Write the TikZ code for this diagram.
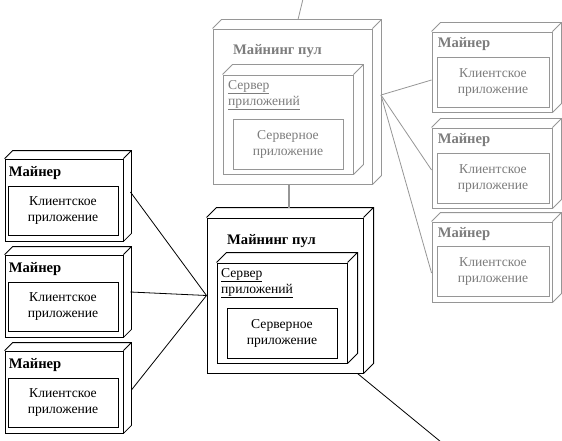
\documentclass[tikz,border=0pt]{standalone}
\usepackage{fontspec}
\setmainfont{Liberation Serif}
\usetikzlibrary{calc}
\definecolor{gline}{RGB}{150,150,150}
\definecolor{gtext}{RGB}{125,125,125}
\newcommand\extrude[3]{\draw[#3] (#1.north west) -- ++(#2,-#2) -- ($(#1.north east)+(#2,-#2)$) -- ($(#1.south east)+(#2,-#2)$) -- (#1.south east) (#1.north east) -- ++(#2,-#2);}
\tikzset{
  txt/.style={font=\fontsize{13.6}{16}\selectfont},
  ttl/.style={font=\fontsize{14.6}{17}\selectfont\bfseries, inner sep=0pt},
  face/.style={rectangle, inner sep=0pt, fill=white},
  blk/.style={draw=black, line width=1pt},
  blkthin/.style={draw=black, line width=0.85pt},
  gry/.style={draw=gline, line width=0.9pt},
  bwire/.style={draw=black, line width=0.8pt},
  gwire/.style={draw=gline, line width=0.8pt},
}
\begin{document}
\begin{tikzpicture}[x=1pt,y=-1pt]
\useasboundingbox (0,0) rectangle (562,441);

% ---------- gray mining pool (top) ----------
\node[face, gry, minimum width=159pt, minimum height=155pt] (gpool) at (292.5,106.5) {};
\extrude{gpool}{9}{gry}
\node[ttl, text=gtext, anchor=base west] (gpoolt) at (233,55) {Майнинг пул};
\node[face, gry, minimum width=130pt, minimum height=99pt] (gsrv) at (288,124.5) {};
\extrude{gsrv}{10}{gry}
\node[txt, text=gtext, anchor=north west, align=left, inner sep=0pt] (gsrvt) at (228,80) {\underline{Сервер}\\\underline{приложений}};
\node[face, gry, minimum width=110pt, minimum height=50pt, txt, text=gtext, align=center] (gapp) at (288,144) {Серверное\\приложение};

% ---------- black mining pool ----------
\node[face, blk, minimum width=156pt, minimum height=155pt] (bpool) at (285,295.5) {};
\extrude{bpool}{10}{blk}
\node[ttl, anchor=base west] (bpoolt) at (227,244) {Майнинг пул};
\node[face, blk, minimum width=130pt, minimum height=100pt] (bsrv) at (282,313) {};
\extrude{bsrv}{10}{blk}
\node[txt, anchor=north west, align=left, inner sep=0pt] (bsrvt) at (221,268) {\underline{Сервер}\\\underline{приложений}};
\node[face, blkthin, minimum width=110pt, minimum height=50pt, txt, align=center] (bapp) at (282,333) {Серверное\\приложение};

% ---------- left miners (black) ----------
\foreach \i/\y/\c in {1/200/210.5, 2/296/306.5, 3/392/402.5}{
  \node[face, blkthin, minimum width=118pt, minimum height=82pt] (lm\i) at (64,\y) {};
  \extrude{lm\i}{8}{blkthin}
  \node[ttl, anchor=base west] (lmt\i) at ($(lm\i.north west)+(4,18)$) {Майнер};
  \node[face, blkthin, minimum width=110pt, minimum height=49pt, txt, align=center] (lc\i) at (63,\c) {Клиентское\\приложение};
}

% ---------- right miners (gray) ----------
\foreach \i/\y/\c in {1/72/82, 2/168/178, 3/262/271}{
  \node[face, gry, minimum width=120pt, minimum height=80pt] (rm\i) at (492,\y) {};
  \extrude{rm\i}{9}{gry}
  \node[ttl, text=gtext, anchor=base west] (rmt\i) at ($(rm\i.north west)+(6,16)$) {Майнер};
  \node[face, gry, minimum width=112pt, minimum height=50pt, txt, text=gtext, align=center] (rc\i) at (493,\c) {Клиентское\\приложение};
}

% ---------- connectors ----------
\coordinate (ghub) at (381,95);
\coordinate (topend) at (303,-1);
\coordinate (botend) at (441,442);
\draw[gwire] ($(gpool.north)+(5.5,-9)$) -- (topend);
\draw[draw=gline, line width=1.5pt] ($(gpool.south)+(-3.5,0)$) -- ($(bpool.north)+(4,-10)$);
\draw[gwire] (ghub) -- ($(rm1.west)+(0,8)$);
\draw[gwire] (ghub) -- ($(rm2.west)+(0,2)$);
\draw[gwire] (ghub) -- ($(rm3.west)+(0,11)$);
\draw[bwire] ($(lm1.east)+(7,-8)$) -- (bpool.west);
\draw[bwire] ($(lm2.east)+(7,-4)$) -- (bpool.west);
\draw[bwire] ($(lm3.east)+(8,-2)$) -- (bpool.west);
\draw[bwire] ($(bpool.south east)+(-6,0)$) -- (botend);
\end{tikzpicture}
\end{document}
